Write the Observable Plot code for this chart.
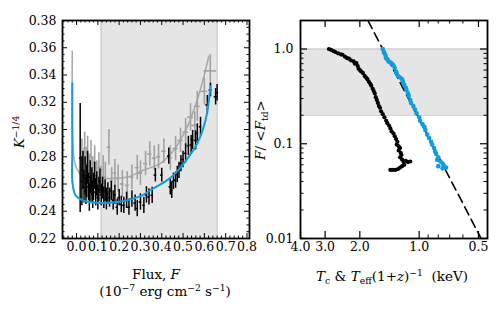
<!DOCTYPE html>
<html><head><meta charset="utf-8">
<script src="https://cdn.jsdelivr.net/npm/d3@7"></script>
<script src="https://cdn.jsdelivr.net/npm/@observablehq/plot@0.6"></script>
<style>
body{margin:0;background:#fff;}
#wrap{position:relative;width:501px;height:316px;font-family:"DejaVu Serif",serif;overflow:hidden;background:#fff}
#wrap svg{position:absolute;top:0;}
.lab{position:absolute;font-size:13.5px;white-space:nowrap;color:#000;line-height:1;transform:translate(-50%,-50%)}
.rot{transform:translate(-50%,-50%) rotate(-90deg)}
sup{font-size:68%;vertical-align:0.55em;line-height:0}
sub{font-size:68%;vertical-align:-0.3em;line-height:0}
</style></head><body><div id="wrap"></div>
<script>
// ---------- Left panel: K^-1/4 vs flux ----------
const blackFlux = [0.017,0.025,0.030,0.035,0.040,0.044,0.048,0.052,0.056,0.060,0.064,0.068,0.072,0.076,0.080,0.085,0.090,0.095,0.100,0.105,0.110,0.116,0.122,0.128,0.134,0.140,0.147,0.155,0.163,0.172,0.180,0.191,0.200,0.210,0.222,0.235,0.246,0.260,0.275,0.285,0.300,0.316,0.328,0.340,0.355,0.370,0.400,0.433,0.440,0.447,0.455,0.465,0.473,0.481,0.490,0.500,0.512,0.525,0.538,0.545,0.559,0.567,0.582,0.614,0.629,0.653,0.660];
const blackK    = [0.279,0.262,0.270,0.258,0.266,0.255,0.262,0.272,0.258,0.250,0.265,0.256,0.262,0.252,0.258,0.266,0.254,0.260,0.250,0.256,0.262,0.252,0.257,0.250,0.255,0.249,0.253,0.250,0.255,0.248,0.252,0.243,0.250,0.245,0.2443,0.248,0.243,0.249,0.246,0.242,0.2468,0.2443,0.252,0.2505,0.2517,0.2665,0.2665,0.2805,0.2579,0.2554,0.262,0.2628,0.267,0.270,0.275,0.278,0.2825,0.288,0.2886,0.2923,0.292,0.2972,0.302,0.318,0.329,0.324,0.327];
const blackFluxErr = [0.003,0.004,0.004,0.004,0.004,0.004,0.004,0.004,0.004,0.004,0.004,0.004,0.004,0.004,0.004,0.005,0.005,0.005,0.005,0.005,0.005,0.005,0.005,0.005,0.005,0.005,0.005,0.005,0.005,0.005,0.006,0.006,0.006,0.006,0.006,0.006,0.006,0.006,0.006,0.006,0.006,0.006,0.006,0.006,0.006,0.006,0.006,0.006,0.006,0.006,0.006,0.006,0.006,0.006,0.006,0.006,0.006,0.006,0.006,0.006,0.006,0.006,0.006,0.007,0.007,0.007,0.007];
const blackKErr = [0.040,0.018,0.014,0.012,0.014,0.010,0.012,0.012,0.010,0.010,0.012,0.010,0.010,0.010,0.010,0.010,0.010,0.009,0.009,0.009,0.009,0.008,0.008,0.008,0.008,0.008,0.008,0.007,0.007,0.007,0.007,0.006,0.006,0.006,0.006,0.006,0.006,0.006,0.006,0.006,0.006,0.006,0.006,0.006,0.006,0.005,0.005,0.006,0.006,0.006,0.006,0.006,0.006,0.006,0.006,0.006,0.007,0.007,0.007,0.007,0.007,0.007,0.007,0.007,0.005,0.006,0.006];

const greyFlux = [0.025,0.032,0.038,0.045,0.052,0.060,0.068,0.076,0.085,0.095,0.105,0.115,0.125,0.135,0.152,0.165,0.180,0.195,0.215,0.238,0.260,0.285,0.300,0.324,0.344,0.365,0.385,0.410,0.440,0.465,0.488,0.512,0.535,0.555,0.567,0.600,0.628];
const greyK    = [0.281,0.272,0.286,0.275,0.283,0.270,0.280,0.268,0.276,0.266,0.272,0.262,0.270,0.265,0.287,0.262,0.268,0.264,0.260,0.259,0.265,0.272,0.268,0.275,0.282,0.279,0.280,0.284,0.279,0.286,0.292,0.298,0.309,0.303,0.317,0.328,0.343];
const greyFluxErr = [0.006,0.006,0.006,0.006,0.006,0.006,0.006,0.006,0.006,0.007,0.007,0.007,0.007,0.007,0.008,0.008,0.008,0.008,0.009,0.009,0.009,0.009,0.010,0.010,0.010,0.010,0.010,0.010,0.010,0.012,0.012,0.013,0.014,0.014,0.014,0.015,0.030];
const greyKErr = [0.012,0.012,0.012,0.012,0.012,0.012,0.012,0.012,0.012,0.011,0.011,0.011,0.011,0.011,0.013,0.010,0.010,0.010,0.010,0.010,0.009,0.009,0.009,0.009,0.009,0.009,0.009,0.009,0.009,0.009,0.009,0.010,0.010,0.010,0.011,0.010,0.012];

const blueCurveFlux = [-0.020,-0.020,-0.019,-0.005,0.019,0.042,0.089,0.136,0.215,0.308,0.347,0.426,0.465,0.504,0.567,0.606,0.629];
const blueCurveK    = [0.334,0.285,0.2606,0.2517,0.2488,0.2473,0.2462,0.2461,0.2473,0.2517,0.2554,0.2628,0.268,0.2751,0.2899,0.3071,0.3317];
const greyCurveFlux = [-0.020,-0.020,-0.014,0.000,0.034,0.089,0.152,0.238,0.316,0.394,0.457,0.520,0.567,0.598,0.621];
const greyCurveK    = [0.3575,0.307,0.2813,0.2717,0.2652,0.2633,0.264,0.2652,0.2702,0.2751,0.2849,0.3021,0.3218,0.339,0.3538];

const fluxTicks = [0.0,0.1,0.2,0.3,0.4,0.5,0.6,0.7,0.8];
const kTicks = [0.22,0.24,0.26,0.28,0.30,0.32,0.34,0.36,0.38];
const shadeFlux = [0.115, 0.66];

// ---------- Right panel: F/<F_td> vs temperature ----------
const tcT = [2.87,2.80,2.72,2.66,2.58,2.50,2.45,2.38,2.32,2.27,2.22,2.15,2.12,2.08,2.05,2.03,2.00,1.97,1.93,1.89,1.86,1.83,1.80,1.77,1.75,1.72,1.70,1.68,1.66,1.64,1.62,1.60,1.58,1.56,1.53,1.50,1.47,1.45,1.42,1.40,1.38,1.35,1.33,1.31,1.29,1.30,1.27,1.25,1.27,1.24,1.23,1.25,1.22,1.20,1.17,1.14,1.11,1.19,1.22,1.25,1.28,1.32,1.36,1.40];
const tcF = [1.00,0.98,0.95,0.93,0.90,0.88,0.87,0.83,0.80,0.79,0.76,0.74,0.70,0.71,0.66,0.62,0.60,0.58,0.56,0.52,0.50,0.48,0.45,0.43,0.41,0.38,0.36,0.34,0.31,0.29,0.27,0.25,0.24,0.22,0.205,0.19,0.175,0.165,0.155,0.145,0.135,0.128,0.12,0.112,0.105,0.098,0.094,0.09,0.085,0.08,0.076,0.072,0.068,0.064,0.066,0.064,0.065,0.060,0.058,0.056,0.054,0.053,0.053,0.053];
const teffT = [1.53,1.51,1.50,1.48,1.47,1.45,1.43,1.40,1.37,1.35,1.33,1.31,1.30,1.28,1.25,1.22,1.21,1.19,1.17,1.16,1.14,1.13,1.11,1.10,1.07,1.05,1.03,1.00,0.99,0.96,0.94,0.93,0.91,0.89,0.87,0.86,0.84,0.83,0.82,0.80,0.81,0.78,0.76,0.75,0.73,0.76,0.80];
const teffF = [1.00,0.93,0.90,0.85,0.80,0.78,0.74,0.72,0.70,0.67,0.63,0.58,0.55,0.52,0.50,0.48,0.45,0.42,0.39,0.37,0.34,0.32,0.29,0.27,0.25,0.23,0.21,0.19,0.175,0.16,0.15,0.14,0.125,0.115,0.105,0.098,0.09,0.083,0.078,0.072,0.068,0.065,0.062,0.059,0.056,0.055,0.058];
const sbT = [1.82, 0.485];
const sbF = [2.0, 0.01];
const tempTicks = [4.0,3.0,2.0,1.0,0.5];
const tempMinor = [0.9,0.8,0.7,0.6];
const ratioTicks = [0.01,0.1,1.0];
const ratioMinor = [0.02,0.03,0.04,0.05,0.06,0.07,0.08,0.09,0.2,0.3,0.4,0.5,0.6,0.7,0.8,0.9];
const shadeRatio = [0.2, 1.0];

// ---------- build rows ----------
const black = blackFlux.map((x,i)=>({x, y: blackK[i], xe: blackFluxErr[i], ye: blackKErr[i]}));
const grey = greyFlux.map((x,i)=>({x, y: greyK[i], xe: greyFluxErr[i], ye: greyKErr[i]}));
const blueCurve = blueCurveFlux.map((x,i)=>({x, y: blueCurveK[i]}));
const greyCurve = greyCurveFlux.map((x,i)=>({x, y: greyCurveK[i]}));
const tc = tcT.map((t,i)=>({t, f: tcF[i]}));
const teff = teffT.map((t,i)=>({t, f: teffF[i]}));
const sb = sbT.map((t,i)=>({t, f: sbF[i]}));

const BLUE = "#0f9de0";
const H = 260, MT = 20, MB = 22, PH = H - MT - MB;
const FS = 12.5;
const svgStyle = {background: "transparent", overflow: "visible", fontFamily: "DejaVu Serif, serif", fontSize: FS + "px", color: "black"};

function inTicks(scale, vals, len, pw, ph, sw) {
  if (scale === "x") return [
    Plot.ruleX(vals, {x: d=>d, insetTop: ph - len, stroke: "black", strokeWidth: sw}),
    Plot.ruleX(vals, {x: d=>d, insetBottom: ph - len, stroke: "black", strokeWidth: sw})
  ];
  return [
    Plot.ruleY(vals, {y: d=>d, insetRight: pw - len, stroke: "black", strokeWidth: sw}),
    Plot.ruleY(vals, {y: d=>d, insetLeft: pw - len, stroke: "black", strokeWidth: sw})
  ];
}
function xLabels(vals, fmt) {
  return Plot.text(vals, {x: d=>d, text: fmt, frameAnchor: "bottom", dy: 12, fill: "black", fontSize: FS, clip: false});
}
function yLabels(vals, fmt, pad) {
  return Plot.text(vals, {y: d=>d, text: fmt, frameAnchor: "left", dx: -pad, textAnchor: "end", fill: "black", fontSize: FS});
}

// Left
const LW = 260, LML = 62, LMR = 11, LPW = LW - LML - LMR;
const fluxMinor = d3.range(-0.06, 0.81, 0.02).map(v => +v.toFixed(2)).filter(v => Math.abs(v*10 - Math.round(v*10)) > 1e-6);
const kMinor = d3.range(0.22, 0.3801, 0.005).map(v => +v.toFixed(3)).filter(v => Math.abs(v*50 - Math.round(v*50)) > 1e-6);

const left = Plot.plot({
  width: LW, height: H, marginLeft: LML, marginRight: LMR, marginTop: MT, marginBottom: MB,
  style: svgStyle,
  x: {domain: [-0.066, 0.812], axis: null},
  y: {domain: [0.22, 0.38], axis: null},
  marks: [
    Plot.rect([shadeFlux], {x1: d=>d[0], x2: d=>d[1], fill: "#e5e5e5"}),
    Plot.ruleX(shadeFlux, {x: d=>d, stroke: "#c6c6c6", strokeWidth: 1.2}),
    Plot.line(greyCurve, {x: "x", y: "y", stroke: "#aaaaaa", strokeWidth: 1.6, curve: "catmull-rom"}),
    Plot.ruleX(grey, {x: "x", y1: d=>d.y-d.ye, y2: d=>d.y+d.ye, stroke: "#a2a2a2", strokeWidth: 1.6}),
    Plot.ruleY(grey, {y: "y", x1: d=>d.x-d.xe, x2: d=>d.x+d.xe, stroke: "#a2a2a2", strokeWidth: 1.6}),
    Plot.ruleX(black, {x: "x", y1: d=>d.y-d.ye, y2: d=>d.y+d.ye, stroke: "black", strokeWidth: 1.5}),
    Plot.ruleY(black, {y: "y", x1: d=>d.x-d.xe, x2: d=>d.x+d.xe, stroke: "black", strokeWidth: 1.5}),
    Plot.line(blueCurve, {x: "x", y: "y", stroke: BLUE, strokeWidth: 2, curve: "catmull-rom"}),
    ...inTicks("x", fluxTicks, 5, LPW, PH, 1),
    ...inTicks("x", fluxMinor, 2.5, LPW, PH, 1),
    ...inTicks("y", kTicks, 5, LPW, PH, 1),
    ...inTicks("y", kMinor, 2.5, LPW, PH, 1),
    Plot.frame({stroke: "black", strokeWidth: 1.8}),
    xLabels(fluxTicks, d => d3.format(".1f")(d)),
    yLabels(kTicks, d => d3.format(".2f")(d), 6)
  ]
});
left.style.left = "0px";

// Right
const RW = 251, RML = 50, RMR = 14, RPW = RW - RML - RMR;
const right = Plot.plot({
  width: RW, height: H, marginLeft: RML, marginRight: RMR, marginTop: MT, marginBottom: MB,
  style: svgStyle,
  x: {type: "log", domain: [4, 0.45], axis: null},
  y: {type: "log", domain: [0.01, 2], axis: null},
  marks: [
    Plot.rect([shadeRatio], {y1: d=>d[0], y2: d=>d[1], fill: "#e5e5e5"}),
    Plot.ruleY(shadeRatio, {y: d=>d, stroke: "#c6c6c6", strokeWidth: 1.2}),
    Plot.line(sb, {x: "t", y: "f", stroke: "black", strokeWidth: 1.6, strokeDasharray: "9,5", clip: true}),
    Plot.dot(tc, {x: "t", y: "f", r: 2.1, fill: "black", stroke: "none"}),
    Plot.dot(teff, {x: "t", y: "f", r: 2.3, fill: BLUE, stroke: "none"}),
    ...inTicks("x", tempTicks, 7, RPW, PH, 1.2),
    ...inTicks("x", tempMinor, 3.5, RPW, PH, 1),
    ...inTicks("y", ratioTicks, 7, RPW, PH, 1.2),
    ...inTicks("y", ratioMinor, 3.5, RPW, PH, 1),
    Plot.frame({stroke: "black", strokeWidth: 1.8}),
    xLabels(tempTicks, d => d3.format(".1f")(d)),
    yLabels(ratioTicks, d => d === 0.01 ? "0.01" : d3.format(".1f")(d), 7)
  ]
});
right.style.left = "250px";

const wrap = document.getElementById("wrap");
wrap.appendChild(left);
wrap.appendChild(right);

function label(html, x, y, rot) {
  const d = document.createElement("div");
  d.className = "lab" + (rot ? " rot" : "");
  d.style.left = x + "px"; d.style.top = y + "px";
  d.innerHTML = html;
  wrap.appendChild(d);
}
label("Flux, <i>F</i>", 156, 275);
label("(10<sup>−7</sup> erg cm<sup>−2</sup> s<sup>−1</sup>)", 165, 292);
label("<i>K</i><sup>−1/4</sup>", 20, 132, true);
label("<i>T</i><sub>c</sub> &amp; <i>T</i><sub>eff</sub>(1+<i>z</i>)<sup>−1</sup>&nbsp; (keV)", 392, 277);
label("<i>F</i>/ &lt;<i>F</i><sub>td</sub>&gt;", 261, 130, true);
</script></body></html>
